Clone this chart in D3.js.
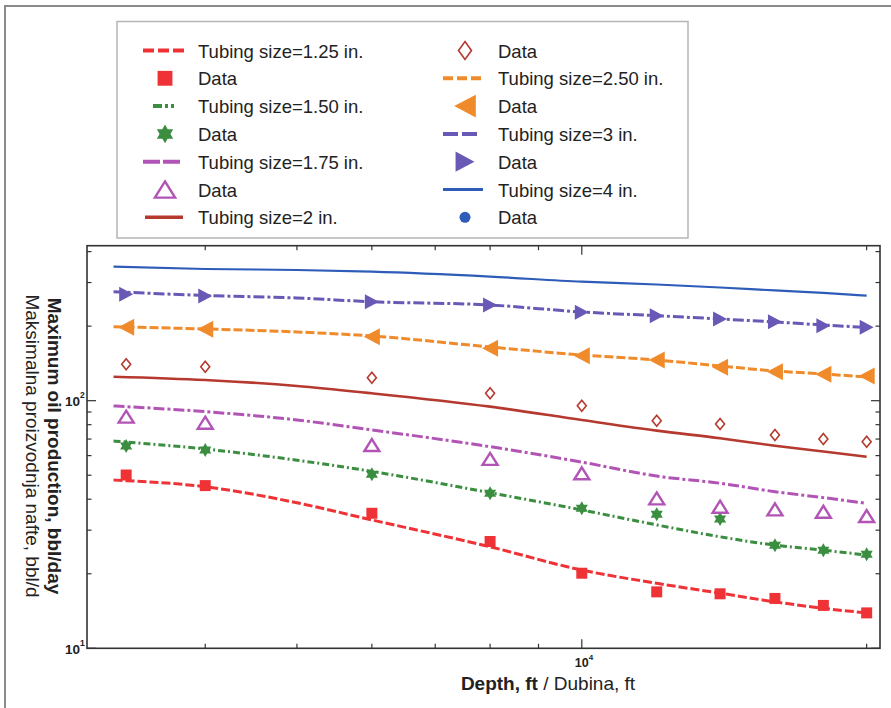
<!DOCTYPE html>
<html><head><meta charset="utf-8">
<script src="https://cdn.jsdelivr.net/npm/d3@7"></script>
<style>body{margin:0;background:#fff} text{font-family:"Liberation Sans", Arial, sans-serif}</style>
</head><body><svg id="c" width="891" height="708"></svg>
<script>
// ---- data ----
const lineDepths = [3200, 4000, 5000, 6000, 8000, 10000, 12000, 14000, 16000, 18000, 20000];
const dataDepths = [3300, 4000, 6000, 8000, 10000, 12000, 14000, 16000, 18000, 20000];
const tubingLabels = ["Tubing size=1.25 in.", "Tubing size=1.50 in.", "Tubing size=1.75 in.", "Tubing size=2 in.", "Tubing size=2.50 in.", "Tubing size=3 in.", "Tubing size=4 in."];
const dataLabel = "Data";
const model125 = [47.8, 44.9, 38.7, 33.0, 25.7, 20.7, 18.3, 16.7, 15.4, 14.5, 13.9];
const data125  = [50.1, 45.4, 35.1, 27.0, 20.1, 16.9, 16.6, 15.9, 14.9, 13.9];
const model150 = [68.7, 63.8, 57.5, 51.8, 42.5, 36.2, 31.5, 28.2, 26.1, 24.9, 23.8];
const data150  = [65.6, 63.2, 50.4, 42.3, 36.8, 34.8, 33.3, 26.1, 24.9, 24.0];
const model175 = [95.2, 90.3, 83.6, 76.2, 65.2, 56.5, 49.6, 46.4, 42.9, 40.6, 38.5];
const data175  = [86.2, 81.5, 66.2, 58.2, 50.9, 40.3, 37.3, 36.4, 35.6, 34.2];
const model200 = [125.0, 121.2, 114.7, 107.1, 94.6, 83.6, 75.7, 70.5, 65.8, 62.3, 59.4];
const data200  = [140.3, 137.2, 123.8, 107.1, 95.4, 83.0, 80.5, 72.7, 70.0, 68.3];
const model250 = [199.0, 194.8, 189.5, 182.5, 164.8, 153.0, 146.0, 138.1, 131.8, 128.2, 124.7];
const data250  = [197.9, 194.5, 181.3, 162.8, 152.0, 146.0, 136.5, 131.0, 127.9, 125.8];
const model300 = [275.5, 266.0, 259.9, 251.0, 243.5, 228.2, 220.4, 213.8, 207.9, 202.2, 197.5];
const data300  = [269.0, 264.8, 251.0, 243.5, 227.5, 220.4, 213.8, 208.5, 200.9, 197.9];
const model400 = [347.6, 340.3, 337.2, 331.9, 317.0, 302.4, 294.6, 286.5, 278.7, 272.3, 265.5];
const data400  = [];
const xMinorTicks = [4000, 5000, 6000, 7000, 8000, 9000, 20000];
const xMajorTicks = [10000];
const yMinorTicks = [20, 30, 40, 50, 60, 70, 80, 90, 200, 300, 400];
const yMajorTicks = [10, 100];

// ---- styles ----
const styles = [
  {color:"#ee3236", dash:"9,3", w:3, marker:"square"},
  {color:"#3b8e40", dash:"7,3,2,3", w:3, marker:"star"},
  {color:"#b254b5", dash:"11,3,3,3", w:3, marker:"triUp"},
  {color:"#b5392e", dash:null, w:2.6, marker:"diamond"},
  {color:"#f08b2b", dash:"9,3", w:3, marker:"triLeft"},
  {color:"#6a58b6", dash:"11,3,3,3", w:3, marker:"triRight"},
  {color:"#2e5cb8", dash:null, w:2.2, marker:"dot"}
];
const legendSample = [
  {x0:0, len:42, dash:"11,4"}, {x0:10, len:22, dash:"9,3,3,3,3,3"}, {x0:0, len:37, dash:"17,3"},
  {x0:2, len:38, dash:null}, {x0:0, len:42, dash:"10,4"}, {x0:0, len:37, dash:"15,4"}, {x0:0, len:40, dash:null}
];
const models = [model125, model150, model175, model200, model250, model300, model400];
const datas  = [data125, data150, data175, data200, data250, data300, data400];

const svg = d3.select("#c");
const x = d3.scaleLog().domain([3000, 20660]).range([87, 880]);
const y = d3.scaleLog().domain([10, 422.6]).range([648.3, 245.7]);

// outer border
svg.append("path").attr("d","M5,708V6H891").attr("fill","none").attr("stroke","#8a8a8a").attr("stroke-width",2);

function markerPath(type, big){
  const k = big ? 1.35 : 1;
  switch(type){
    case "square": { const s=5.5*k; return `M${-s},${-s}H${s}V${s}H${-s}Z`; }
    case "star": { const r=7*k; let d="";
      [-90,90].forEach(a0=>{ const p=[0,1,2].map(i=>{const a=(a0+i*120)*Math.PI/180; return [r*Math.cos(a), r*Math.sin(a)];});
        d+=`M${p[0]}L${p[1]}L${p[2]}Z`; }); return d; }
    case "triUp": { const w=7.5*k, h=6*k; return `M0,${-h}L${w},${h}L${-w},${h}Z`; }
    case "diamond": { const w=(big?6.5:4.5), h=(big?9:5.5); return `M0,${-h}L${w},0L0,${h}L${-w},0Z`; }
    case "triLeft": { const w=8*k, h=8.5*k; return `M${-w},0L${w},${-h}L${w},${h}Z`; }
    case "triRight": { const w=7*k, h=7.5*k; return `M${w},0L${-w},${-h}L${-w},${h}Z`; }
    case "dot": { const r=5.5; return `M${r},0A${r},${r} 0 1,1 ${-r},0A${r},${r} 0 1,1 ${r},0Z`; }
  }
}
function styleMarker(sel, st){
  const open = st.marker==="triUp" || st.marker==="diamond";
  sel.attr("fill", open ? "none" : st.color)
     .attr("stroke", open ? st.color : "none")
     .attr("stroke-width", st.marker==="triUp" ? 2.4 : 1.6)
     .attr("stroke-linejoin","miter");
}

// lines
const lineGen = d3.line().x(d=>x(d[0])).y(d=>y(d[1])).curve(d3.curveMonotoneX);
const plot = svg.append("g");
models.forEach((m,i)=>{
  const st = styles[i];
  plot.append("path").datum(lineDepths.map((d,j)=>[d,m[j]]))
    .attr("d", lineGen).attr("fill","none").attr("stroke", st.color)
    .attr("stroke-width", st.w).attr("stroke-dasharray", st.dash);
});
// markers
datas.forEach((arr,i)=>{
  const st = styles[i];
  plot.selectAll(null).data(arr.map((v,j)=>[dataDepths[j], v])).enter().append("path")
    .attr("transform", d=>`translate(${x(d[0])},${y(d[1])})`)
    .attr("d", markerPath(st.marker,false)).call(styleMarker, st);
});

// frame
svg.append("rect").attr("x",87).attr("y",245.7).attr("width",793).attr("height",402.6)
  .attr("fill","none").attr("stroke","#333").attr("stroke-width",1.6);

// ticks
const ax = svg.append("g").attr("stroke","#333").attr("stroke-width",1.2);
const [yb, yt] = y.range(); const [xl, xr] = x.range();
xMinorTicks.forEach(v=>{ ax.append("line").attr("x1",x(v)).attr("x2",x(v)).attr("y1",yb).attr("y2",yb-4.5);
  ax.append("line").attr("x1",x(v)).attr("x2",x(v)).attr("y1",yt).attr("y2",yt+4.5); });
xMajorTicks.forEach(v=>{ ax.append("line").attr("x1",x(v)).attr("x2",x(v)).attr("y1",yb).attr("y2",yb-9);
  ax.append("line").attr("x1",x(v)).attr("x2",x(v)).attr("y1",yt).attr("y2",yt+9); });
yMinorTicks.forEach(v=>{ ax.append("line").attr("y1",y(v)).attr("y2",y(v)).attr("x1",xl).attr("x2",xl+4.5);
  ax.append("line").attr("y1",y(v)).attr("y2",y(v)).attr("x1",xr).attr("x2",xr-4.5); });
yMajorTicks.forEach(v=>{ ax.append("line").attr("y1",y(v)).attr("y2",y(v)).attr("x1",xl).attr("x2",xl+9);
  ax.append("line").attr("y1",y(v)).attr("y2",y(v)).attr("x1",xr).attr("x2",xr-9); });

// tick labels
xMajorTicks.forEach(v=>{
  const t = svg.append("text").attr("x", x(v)-7).attr("y", yb+19).attr("font-size",12.5).attr("font-weight","bold").attr("fill","#222");
  t.append("tspan").text("10");
  t.append("tspan").attr("dy",-7).attr("font-size",8).text(Math.round(Math.log10(v)));
});
yMajorTicks.forEach(v=>{
  const t = svg.append("text").attr("x", 65).attr("y", y(v)+5.5).attr("font-size",13.5).attr("font-weight","bold").attr("fill","#222");
  t.append("tspan").text("10");
  t.append("tspan").attr("dy",-8).attr("font-size",8.5).text(Math.round(Math.log10(v)));
});

// axis titles
const xt = svg.append("text").attr("x",548).attr("y",690).attr("text-anchor","middle").attr("font-size",19).attr("fill","#222");
xt.append("tspan").attr("font-weight","bold").text("Depth, ft");
xt.append("tspan").text(" / Dubina, ft");
svg.append("text").attr("transform","translate(48,446) rotate(90)").attr("text-anchor","middle")
  .attr("font-size",19).attr("font-weight","bold").attr("fill","#222").text("Maximum oil production, bbl/day");
svg.append("text").attr("transform","translate(26,446) rotate(90)").attr("text-anchor","middle")
  .attr("font-size",19).attr("fill","#222").text("Maksimalna proizvodnja nafte, bbl/d");

// legend
svg.append("rect").attr("x",117).attr("y",21.5).attr("width",571).attr("height",216.5)
  .attr("fill","#fff").attr("stroke","#b5b5b5").attr("stroke-width",1.5);
const items = [];
tubingLabels.forEach((lab,i)=>{ items.push({kind:"line", i, label:lab}); items.push({kind:"data", i, label:dataLabel}); });
const lg = svg.append("g");
items.forEach((it,k)=>{
  const col = k < 7 ? 0 : 1, row = k % 7;
  const x0 = col===0 ? 143 : 443, cy = 50.5 + row*27.8;
  const st = styles[it.i];
  if(it.kind==="line"){
    const ls = legendSample[it.i];
    lg.append("line").attr("x1",x0+ls.x0).attr("x2",x0+ls.x0+ls.len).attr("y1",cy).attr("y2",cy)
      .attr("stroke",st.color).attr("stroke-width",st.w+1).attr("stroke-dasharray",ls.dash);
  } else {
    lg.append("path").attr("transform",`translate(${x0+22},${cy})`).attr("d", markerPath(st.marker,true)).call(styleMarker, st);
  }
  lg.append("text").attr("x", x0+55).attr("y", cy+7).attr("font-size",18.5).attr("fill","#222").text(it.label);
});
</script></body></html>
